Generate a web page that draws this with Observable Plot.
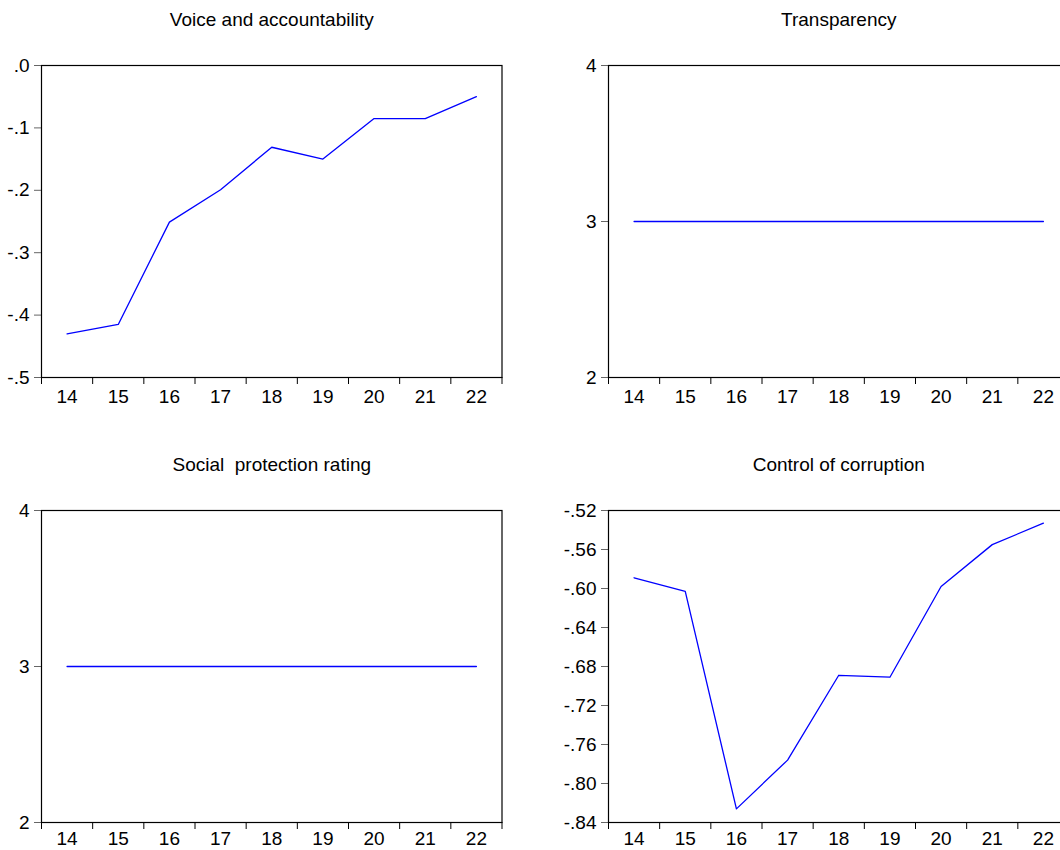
<!DOCTYPE html>
<html><head><meta charset="utf-8">
<script src="https://cdn.jsdelivr.net/npm/d3@7"></script>
<script src="https://cdn.jsdelivr.net/npm/@observablehq/plot@0.6"></script>
<style>
html,body{margin:0;padding:0;background:#fff;overflow:hidden}
#root{position:relative;width:1060px;height:850px;overflow:hidden;background:#fff}
.panel{position:absolute}
</style></head><body><div id="root"></div>
<script>
// ---- data ----
const years = [14, 15, 16, 17, 18, 19, 20, 21, 22];
const yearBounds = [13.5, 14.5, 15.5, 16.5, 17.5, 18.5, 19.5, 20.5, 21.5, 22.5];

const voiceAccountability = [-0.430, -0.415, -0.251, -0.199, -0.131, -0.150, -0.085, -0.085, -0.050];
const transparency = [3, 3, 3, 3, 3, 3, 3, 3, 3];
const socialProtection = [3, 3, 3, 3, 3, 3, 3, 3, 3];
const controlCorruption = [-0.589, -0.603, -0.826, -0.776, -0.689, -0.691, -0.598, -0.555, -0.533];

const voiceTicks = [-0.5, -0.4, -0.3, -0.2, -0.1, 0.0];
const voiceTickLabels = ["-.5", "-.4", "-.3", "-.2", "-.1", ".0"];
const ratingTicks = [2, 3, 4];
const ratingTickLabels = ["2", "3", "4"];
const corruptionTicks = [-0.84, -0.80, -0.76, -0.72, -0.68, -0.64, -0.60, -0.56, -0.52];
const corruptionTickLabels = ["-.84", "-.80", "-.76", "-.72", "-.68", "-.64", "-.60", "-.56", "-.52"];

const titles = ["Voice and accountability", "Transparency", "Social  protection rating", "Control of corruption"];

// ---- panels ----
const panels = [
  {title: titles[0], values: voiceAccountability, domain: [-0.5, 0], ticks: voiceTicks, labels: voiceTickLabels, left: 0, top: 0, pad: 12},
  {title: titles[1], values: transparency, domain: [2, 4], ticks: ratingTicks, labels: ratingTickLabels, left: 567, top: 0, pad: 12},
  {title: titles[2], values: socialProtection, domain: [2, 4], ticks: ratingTicks, labels: ratingTickLabels, left: 0, top: 445, pad: 9},
  {title: titles[3], values: controlCorruption, domain: [-0.84, -0.52], ticks: corruptionTicks, labels: corruptionTickLabels, left: 567, top: 445, pad: 9}
];

const root = document.getElementById("root");
const font = "'Liberation Sans', Arial, sans-serif";

for (const p of panels) {
  const chart = Plot.plot({
    width: 530,
    height: 425,
    marginLeft: 41,
    marginRight: 28.5,
    marginTop: 65,
    marginBottom: 48,
    x: {domain: [13.5, 22.5]},
    y: {domain: p.domain},
    style: {fontFamily: font, fontSize: "19px", color: "#000", background: "transparent", overflow: "visible"},
    marks: [
      Plot.axisY({ticks: p.ticks, tickFormat: (d) => p.labels[p.ticks.indexOf(d)], tickSize: 7, tickPadding: 5, stroke: "#666", fill: "#000", fontSize: 19}),
      Plot.axisX({ticks: yearBounds, tickFormat: () => "", tickSize: 7, stroke: "#000"}),
      Plot.axisX({ticks: years, tickFormat: (d) => String(d), tickSize: 0, tickPadding: p.pad, fill: "#000", fontSize: 19}),
      Plot.lineY(p.values, {x: years, y: (d) => d, stroke: "#0000ff", strokeWidth: 1.3}),
      Plot.frame({stroke: "#000", strokeWidth: 1.2}),
      Plot.text([p.title], {frameAnchor: "top", lineAnchor: "middle", dy: -46, fontSize: 19, fill: "#000"})
    ]
  });
  chart.classList.add("panel");
  chart.style.left = p.left + "px";
  chart.style.top = p.top + "px";
  root.appendChild(chart);
}
</script>
</body></html>
